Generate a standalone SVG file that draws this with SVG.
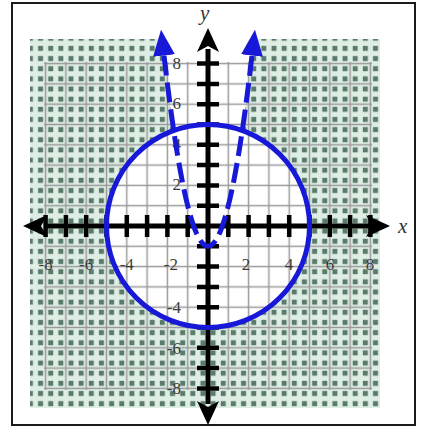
<svg xmlns="http://www.w3.org/2000/svg" width="425" height="428" viewBox="0 0 425 428">
  <style>
    .lbl { font-family: "Liberation Serif", "Times New Roman", serif; font-size: 17px; fill: #3a3a3a; }
    .axlbl { font-family: "Liberation Serif", "Times New Roman", serif; font-size: 21px; font-style: italic; fill: #333; }
    .axis { stroke: #000; stroke-width: 5; fill: none; }
    .tick { stroke: #000; stroke-width: 4.5; fill: none; }
    .curve { stroke: #1818d8; stroke-width: 5; fill: none; }
  </style>
  <defs>
    <pattern id="dots" patternUnits="userSpaceOnUse" x="208" y="226" width="10.15" height="10.15">
      <rect x="2.6" y="2.6" width="5" height="5" fill="#5a7a6a"/>
    </pattern>
    <pattern id="grid" patternUnits="userSpaceOnUse" x="197.85" y="215.85" width="20.3" height="20.3">
      <line x1="10.15" y1="0" x2="10.15" y2="20.3" stroke="#9a9a9a" stroke-width="1.5"/>
      <line x1="0" y1="10.15" x2="20.3" y2="10.15" stroke="#9a9a9a" stroke-width="1.5"/>
    </pattern>
    <mask id="shadeMask" maskUnits="userSpaceOnUse" x="0" y="0" width="425" height="428">
      <rect x="0" y="0" width="425" height="428" fill="#fff"/>
      <circle cx="208" cy="226" r="101.5" fill="#000"/>
      <path d="M 161 28 L 164 55.6 Q 208 437 252 55.6 L 255 28 Z" fill="#000"/>
    </mask>
    <marker id="blueArrow" markerUnits="userSpaceOnUse" markerWidth="30" markerHeight="24" refX="0" refY="12" orient="auto-start-reverse" viewBox="0 0 30 24">
      <path d="M0,1 L26,12 L0,23 Z" fill="#1818d8"/>
    </marker>
    <marker id="blackArrow" markerUnits="userSpaceOnUse" markerWidth="26" markerHeight="24" refX="3" refY="12" orient="auto-start-reverse" viewBox="0 0 26 24">
      <path d="M0,1 L24,12 L0,23 L6,12 Z" fill="#000"/>
    </marker>
  </defs>

  <rect x="0" y="0" width="425" height="428" fill="#fff"/>
  <rect x="12" y="3" width="403" height="422" fill="none" stroke="#1a1a1a" stroke-width="2"/>

  <g id="shading" mask="url(#shadeMask)">
    <rect x="30" y="39" width="350" height="369" fill="#dfeee5"/>
    <rect x="30" y="39" width="350" height="369" fill="url(#dots)"/>
  </g>

  <g id="grid-lines">
    <rect x="44" y="62" width="328" height="328" fill="url(#grid)"/>
  </g>

  <g id="axes">
    <line class="axis" x1="44" y1="226" x2="369" y2="226" marker-start="url(#blackArrow)" marker-end="url(#blackArrow)"/>
    <line class="axis" x1="208" y1="49" x2="208" y2="404" marker-start="url(#blackArrow)" marker-end="url(#blackArrow)"/>
    <path class="tick" d="M45.6 215v22M65.9 215v22M86.2 215v22M106.5 215v22M126.8 215v22M147.1 215v22M167.4 215v22M187.7 215v22M228.3 215v22M248.6 215v22M268.9 215v22M289.2 215v22M309.5 215v22M329.8 215v22M350.1 215v22M370.4 215v22"/>
    <path class="tick" d="M197 63.6h22M197 83.9h22M197 104.2h22M197 124.5h22M197 144.8h22M197 165.1h22M197 185.4h22M197 205.7h22M197 246.3h22M197 266.6h22M197 286.9h22M197 307.2h22M197 327.5h22M197 347.8h22M197 368.1h22M197 388.4h22"/>
  </g>

  <g id="tick-labels">
    <text class="lbl" x="45.6" y="270" text-anchor="middle">-8</text>
    <text class="lbl" x="86.2" y="270" text-anchor="middle">-6</text>
    <text class="lbl" x="126.8" y="270" text-anchor="middle">-4</text>
    <text class="lbl" x="178" y="270" text-anchor="end">-2</text>
    <text class="lbl" x="246" y="270" text-anchor="middle">2</text>
    <text class="lbl" x="289" y="270" text-anchor="middle">4</text>
    <text class="lbl" x="330" y="270" text-anchor="middle">6</text>
    <text class="lbl" x="370" y="270" text-anchor="middle">8</text>
    <text class="lbl" x="181" y="69" text-anchor="end">8</text>
    <text class="lbl" x="181" y="109" text-anchor="end">6</text>
    <text class="lbl" x="181" y="150" text-anchor="end">4</text>
    <text class="lbl" x="181" y="190" text-anchor="end">2</text>
    <text class="lbl" x="181" y="313" text-anchor="end">-4</text>
    <text class="lbl" x="181" y="354" text-anchor="end">-6</text>
    <text class="lbl" x="181" y="394" text-anchor="end">-8</text>
  </g>

  <g id="axis-labels">
    <text class="axlbl" x="398" y="233">x</text>
    <text class="axlbl" x="200" y="20">y</text>
  </g>

  <g id="circle">
    <circle class="curve" cx="208" cy="226" r="101.5"/>
  </g>

  <g id="parabola">
    <path class="curve" d="M 164 55.6 Q 208 437 252 55.6" stroke-dasharray="20 7" marker-start="url(#blueArrow)" marker-end="url(#blueArrow)"/>
  </g>
</svg>
